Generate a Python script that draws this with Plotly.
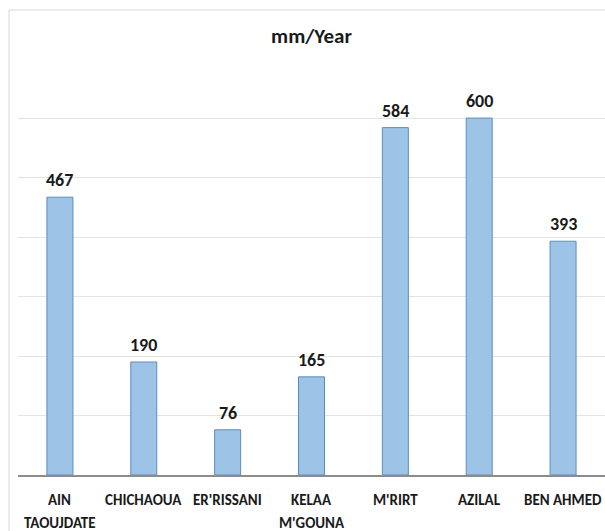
import plotly.graph_objects as go

# Mean annual rainfall by station (mm/Year)
stations = ["AIN TAOUJDATE", "CHICHAOUA", "ER'RISSANI", "KELAA M'GOUNA",
            "M'RIRT", "AZILAL", "BEN AHMED"]
label_lines = [["AIN", "TAOUJDATE"], ["CHICHAOUA"], ["ER'RISSANI"], ["KELAA", "M'GOUNA"],
               ["M'RIRT"], ["AZILAL"], ["BEN AHMED"]]
rainfall = [467, 190, 76, 165, 584, 600, 393]

FONT = "Carlito, Lato, Liberation Sans Narrow, sans-serif"
INK = "#1a1a1a"

fig = go.Figure(
    go.Bar(
        x=stations,
        y=rainfall,
        marker=dict(color="#9dc3e6", line=dict(color="#5f8cbb", width=1)),
        hoverinfo="x+y",
    )
)

annotations = []
# value labels above each bar
for name, v in zip(stations, rainfall):
    annotations.append(dict(
        x=name, xref="x", y=v, yref="y",
        yanchor="middle", yshift=17,
        text=f"<b>{v}</b>", showarrow=False,
        font=dict(family=FONT, size=18, color=INK),
    ))
# category labels, one annotation per text line
for name, lines in zip(stations, label_lines):
    for i, line in enumerate(lines):
        annotations.append(dict(
            x=name, xref="x", y=0, yref="paper",
            yanchor="middle", yshift=-25 - 23 * i,
            text=f"<b>{line}</b>", showarrow=False,
            font=dict(family=FONT, size=15, color=INK),
        ))

fig.update_layout(
    width=605,
    height=531,
    margin=dict(l=18, r=0, t=58, b=56),
    paper_bgcolor="white",
    plot_bgcolor="white",
    bargap=0.69,
    showlegend=False,
    title=dict(
        text="<b>mm/Year</b>",
        x=0.5,
        xref="paper",
        y=1 - 36 / 531,
        yanchor="middle",
        font=dict(family=FONT, size=21, color=INK),
    ),
    xaxis=dict(
        showgrid=False,
        showline=True,
        linecolor="#8c8c8c",
        linewidth=1.5,
        showticklabels=False,
        ticks="",
    ),
    yaxis=dict(
        range=[0, 701],
        dtick=100,
        showgrid=True,
        gridcolor="#e3e3e3",
        gridwidth=1,
        showticklabels=False,
        zeroline=False,
        showline=False,
    ),
    annotations=annotations,
    shapes=[
        dict(
            type="rect",
            xref="paper",
            yref="paper",
            x0=-9 / 587,
            x1=1.05,
            y0=-0.2,
            y1=1 + 48 / 417,
            line=dict(color="#d9d9d9", width=1),
            fillcolor="rgba(0,0,0,0)",
            layer="below",
        )
    ],
)

fig.write_html("out.html")
